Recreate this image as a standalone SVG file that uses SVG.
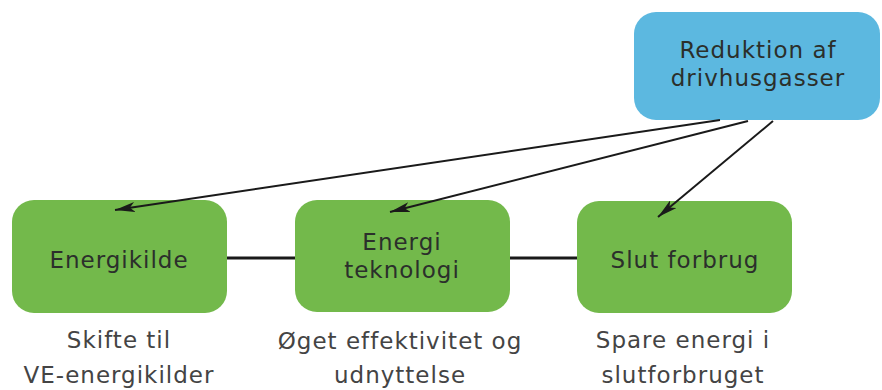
<svg xmlns="http://www.w3.org/2000/svg" width="882" height="390" viewBox="0 0 882 390">
<defs>
<style>
.blue{fill:#5cb8e0}
.green{fill:#73b94b}
.nt{font-family:"DejaVu Sans",Verdana,sans-serif;font-size:23px;fill:#2b2f2b;text-anchor:middle;letter-spacing:1px}
.lt{font-family:"DejaVu Sans",Verdana,sans-serif;font-size:23px;fill:#444;text-anchor:middle;letter-spacing:1px}
.ln{stroke:#1a1a1a;stroke-width:2;fill:none}
.hl{stroke:#1a1a1a;stroke-width:3;fill:none}
</style>
<marker id="ah" viewBox="0 0 20 10" refX="20" refY="5" markerWidth="20" markerHeight="10" markerUnits="userSpaceOnUse" orient="auto">
<path d="M0,0 L20,5 L0,10 L5,5 Z" fill="#1a1a1a"/>
</marker>
</defs>
<rect width="882" height="390" fill="#fff"/>
<g id="node-reduktion">
<rect class="blue" x="634" y="12" width="246" height="108" rx="22"/>
<text class="nt" x="758" y="58">Reduktion af</text>
<text class="nt" x="758" y="86">drivhusgasser</text>
</g>
<g id="node-energikilde">
<rect class="green" x="12" y="200" width="215" height="113" rx="22"/>
<text class="nt" x="119" y="268">Energikilde</text>
</g>
<g id="node-energiteknologi">
<rect class="green" x="295" y="200" width="215" height="112" rx="22"/>
<text class="nt" x="402" y="250">Energi</text>
<text class="nt" x="402" y="278">teknologi</text>
</g>
<g id="node-slutforbrug">
<rect class="green" x="577" y="201" width="215" height="112" rx="22"/>
<text class="nt" x="685" y="268">Slut forbrug</text>
</g>
<g id="connectors">
<line class="hl" x1="227" y1="258" x2="295" y2="258"/>
<line class="hl" x1="510" y1="258" x2="577" y2="258"/>
<line class="ln" x1="720" y1="120" x2="115" y2="210" marker-end="url(#ah)"/>
<line class="ln" x1="748" y1="121" x2="390" y2="212" marker-end="url(#ah)"/>
<line class="ln" x1="773" y1="121" x2="658" y2="217" marker-end="url(#ah)"/>
</g>
<g id="labels">
<text class="lt" x="119" y="348">Skifte til</text>
<text class="lt" x="119" y="383">VE-energikilder</text>
<text class="lt" x="400" y="349">Øget effektivitet og</text>
<text class="lt" x="400" y="383">udnyttelse</text>
<text class="lt" x="683" y="348">Spare energi i</text>
<text class="lt" x="683" y="383">slutforbruget</text>
</g>
</svg>
